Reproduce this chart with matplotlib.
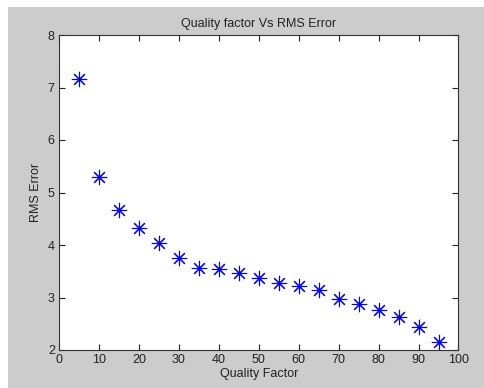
import matplotlib.pyplot as plt
from matplotlib.patches import Rectangle

# Данные графика
quality = [5, 10, 15, 20, 25, 30, 35, 40, 45, 50, 55, 60, 65, 70, 75, 80, 85, 90, 95]
rms_error = [7.16, 5.30, 4.67, 4.32, 4.04, 3.75, 3.56, 3.54, 3.47, 3.37, 3.28, 3.22, 3.14,
             2.97, 2.87, 2.76, 2.62, 2.44, 2.15]
x_ticks = list(range(0, 101, 10))
y_ticks = [2, 3, 4, 5, 6, 7, 8]

plt.rcParams['font.family'] = ['Liberation Sans', 'DejaVu Sans']
plt.rcParams['font.size'] = 9

fig = plt.figure(figsize=(4.85, 3.88), dpi=100, facecolor='white')
# серый фон окна MATLAB
bg = Rectangle((8 / 485, 0), 1, 1 - 7 / 388, transform=fig.transFigure,
               facecolor='#cccccc', edgecolor='none', zorder=-10)
fig.add_artist(bg)

ax = fig.add_axes([59 / 485, 1 - 350 / 388, 399.5 / 485, 315 / 388])
ax.set_zorder(1)
ax.plot(quality, rms_error, linestyle='none', marker=(8, 2, 0), markersize=11,
        markeredgewidth=0.8, color='#0000ff')

ax.set_xlim(0, 100)
ax.set_ylim(2, 8)
ax.set_xticks(x_ticks)
ax.set_yticks(y_ticks)
ax.tick_params(direction='in', length=4, top=True, right=True, colors='#222222',
               labelcolor='#222222', pad=3, labelsize=9)
for s in ax.spines.values():
    s.set_color('#333333')
    s.set_linewidth(0.8)

ax.set_title("Quality factor Vs RMS Error", fontsize=9, pad=6, color='#222222')
ax.set_xlabel("Quality Factor", fontsize=9, labelpad=1, color='#222222')
ax.set_ylabel("RMS Error", fontsize=9, labelpad=4, color='#222222')

fig.savefig("out.png", dpi=100, facecolor=fig.get_facecolor())
